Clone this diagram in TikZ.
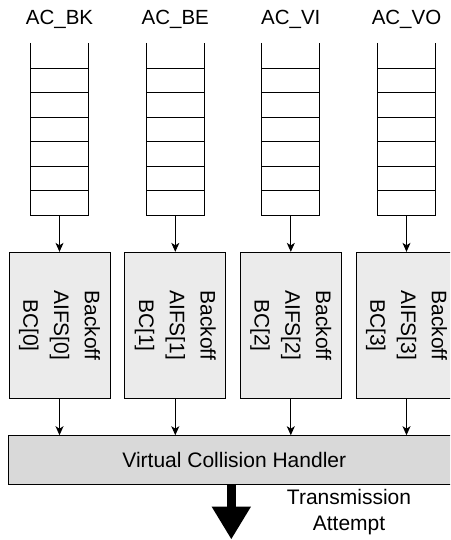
\documentclass[tikz,border=0pt]{standalone}
\usepackage{fontspec}
\setmainfont{Liberation Sans}
\usetikzlibrary{arrows.meta}
\begin{document}
\begin{tikzpicture}[x=1pt,y=-1pt,
  lbl/.style={font=\fontsize{20.5}{24}\selectfont, inner sep=0pt},
  queue/.style={minimum width=57.6pt, minimum height=172pt, inner sep=0pt, draw=none},
  boff/.style={draw=black, line width=0.9pt, fill=boxfill, minimum width=101pt, minimum height=146pt, inner sep=0pt},
  btxt/.style={rotate=-90, align=center, font=\fontsize{21}{30.7}\selectfont, inner sep=0pt},
  arr/.style={-{Stealth[length=9pt,width=8pt,inset=2.5pt]}, line width=0.9pt},
  qline/.style={line width=0.9pt}
]
\definecolor{boxfill}{HTML}{EBEBEB}
\definecolor{vchfill}{HTML}{D9D9D9}
\clip (0,0) rectangle (450,540);
\fill[white] (0,0) rectangle (450,540);

\foreach \nm/\cx/\lab/\k in {bk/59.5/AC\_BK/0, be/175.3/AC\_BE/1, vi/290.8/AC\_VI/2, vo/406.5/AC\_VO/3} {
  \node[lbl] (l\nm) at (\cx,19.5) {\lab};
  \node[queue] (q\nm) at (\cx,129) {};
  \draw[qline] (q\nm.north west) -- (q\nm.south west) -- (q\nm.south east) -- (q\nm.north east);
  \foreach \yy in {68.3,92.8,117.2,141.7,166.1,190.6} {
    \draw[qline] ([xshift=0pt]q\nm.west |- 0,\yy) -- (q\nm.east |- 0,\yy);
  }
  \node[boff] (b\nm) at (\cx,325.3) {};
  \node[btxt] (t\nm) at (b\nm.center) {Backoff\\AIFS[\k]\\BC[\k]};
  \draw[arr] (q\nm.south) -- (b\nm.north);
}

\node[draw=black, line width=0.9pt, fill=vchfill, minimum width=452pt, minimum height=48.3pt, inner sep=0pt] (vch) at (234.3,459.8) {};
\node[lbl, font=\fontsize{21}{24}\selectfont] (vcht) at (vch.center) {Virtual Collision Handler};

\foreach \nm in {bk,be,vi,vo} {
  \draw[arr] (b\nm.south) -- (b\nm.south |- vch.north);
}

\coordinate (tip) at (231.3,539.5);
\draw[line width=9.5pt, -{Triangle[length=33pt,width=37pt]}] (vch.south -| tip) -- (tip);

\node[align=center, font=\fontsize{21}{25.5}\selectfont, inner sep=0pt] (tx) at (349,512) {Transmission\\Attempt};
\end{tikzpicture}
\end{document}
